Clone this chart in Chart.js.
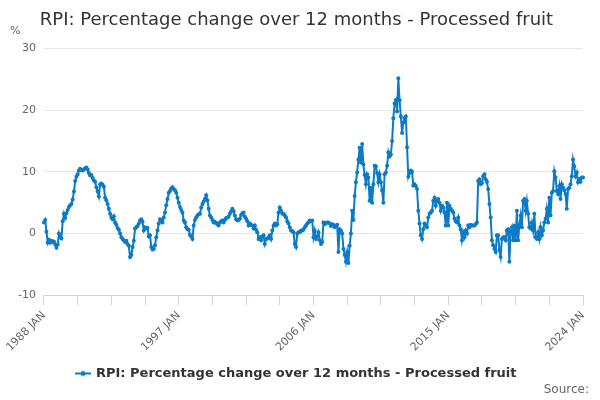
<!DOCTYPE html>
<html>
<head>
<meta charset="utf-8">
<script src="https://cdn.jsdelivr.net/npm/chart.js@4"></script>
<style>
  html, body { margin: 0; padding: 0; background: #fff; }
  #wrap { width: 600px; height: 400px; }
</style>
</head>
<body>
<div id="wrap"><canvas id="rpiChart" width="600" height="400"></canvas></div>
<script>
// monthly series, 1988 JAN .. 2024 JAN
const startYear = 1988;
const monthNames = ['JAN', 'FEB', 'MAR', 'APR', 'MAY', 'JUN', 'JUL', 'AUG', 'SEP', 'OCT', 'NOV', 'DEC'];
const tickLabels = ['1988 JAN', '1997 JAN', '2006 JAN', '2015 JAN', '2024 JAN'];
const yTicks = [-10, 0, 10, 20, 30];

const values = [
    1.8, 2.2, 0.3, -1.5, -1.0, -1.5, -1.2, -1.4, -1.3, -1.8, -2.3, -1.8,   // 1988
    0.0, -0.6, -0.8, 2.0, 3.2, 2.5, 3.3, 3.8, 4.3, 4.6, 4.8, 5.5,         // 1989
    6.8, 8.5, 9.2, 9.6, 10.2, 10.5, 10.3, 10.2, 10.4, 10.6, 10.7, 10.4,   // 1990
    9.8, 9.4, 9.5, 9.0, 8.6, 8.4, 7.5, 6.8, 6.0, 8.0, 8.1, 7.9,           // 1991
    7.6, 5.8, 5.4, 4.8, 4.0, 3.2, 2.6, 2.3, 2.8, 1.8, 1.4, 0.9,           // 1992
    0.6, 0.0, -0.6, -0.9, -1.1, -1.4, -1.2, -1.7, -2.0, -3.8, -3.5, -2.2, // 1993
    -1.2, 0.8, 1.0, 1.2, 1.6, 2.1, 2.3, 1.9, 0.5, 1.0, 0.8, 0.9,          // 1994
    -0.5, -0.3, -2.2, -2.6, -2.5, -1.9, -0.6, 0.5, 1.6, 2.3, 2.1, 1.8,    // 1995
    2.6, 3.4, 4.6, 5.6, 6.6, 6.9, 7.3, 7.5, 7.2, 7.0, 6.6, 5.8,           // 1996
    5.0, 4.3, 3.8, 3.4, 2.1, 1.8, 1.0, 0.7, 0.6, -0.2, -0.5, -0.9,        // 1997
    1.3, 2.2, 2.6, 2.9, 3.1, 3.2, 4.2, 4.8, 5.2, 5.6, 6.2, 5.4,           // 1998
    4.0, 2.9, 2.6, 2.2, 1.8, 1.9, 1.7, 1.5, 1.3, 1.8, 2.0, 2.1,           // 1999
    1.8, 2.2, 2.5, 2.6, 2.7, 3.2, 3.6, 4.0, 3.6, 2.9, 2.3, 2.1,           // 2000
    2.2, 2.4, 3.0, 3.3, 3.4, 2.7, 2.4, 2.0, 1.3, 1.6, 1.4, 1.3,           // 2001
    0.8, 1.3, 0.6, 0.2, -0.9, -0.6, -1.1, -0.5, -0.3, -1.7, -0.9, -0.8,   // 2002
    -0.6, -0.3, -0.9, 0.5, 1.3, 1.6, 1.3, 1.5, 3.4, 4.2, 3.7, 3.2,        // 2003
    3.2, 2.9, 2.6, 2.0, 1.6, 1.0, 0.5, 0.4, 0.2, -1.7, -2.2, 0.0,         // 2004
    0.2, 0.2, 0.5, 0.5, 0.6, 1.0, 1.3, 1.6, 1.8, 2.1, 2.0, 2.1,           // 2005
    -0.6, 0.5, -0.9, -0.5, 0.2, -1.1, -1.7, -1.4, 1.8, 1.5, 1.7, 1.8,     // 2006
    1.8, 1.6, 1.2, 1.5, 1.4, 1.0, 1.2, 1.4, -3.0, 0.7, 0.5, 0.0,          // 2007
    -2.5, -3.5, -4.6, -3.0, -4.8, -2.0, 0.0, 3.7, 2.2, 6.1, 8.3, 9.9,     // 2008
    12.0, 13.9, 11.5, 14.5, 11.2, 9.5, 8.0, 9.6, 9.1, 5.3, 7.4, 5.0,      // 2009
    8.0, 11.0, 10.9, 9.8, 8.3, 9.6, 8.3, 7.0, 5.0, 9.6, 9.9, 11.0,        // 2010
    13.2, 12.5, 12.8, 15.0, 18.7, 21.1, 21.6, 19.8, 25.2, 21.6, 19.0, 16.3, // 2011
    18.0, 18.7, 19.0, 14.0, 9.2, 9.8, 10.2, 10.0, 7.8, 8.0, 7.7, 7.2,     // 2012
    3.7, 1.6, -0.3, -0.9, 0.7, 1.6, 1.3, 1.0, 2.6, 3.2, 3.4, 3.7,         // 2013
    5.3, 5.8, 4.5, 5.3, 5.6, 5.0, 3.7, 4.5, 4.2, 3.4, 1.3, 5.0,           // 2014
    1.3, 4.5, 4.0, 3.7, 3.4, 2.4, 2.0, 1.8, 2.6, 1.3, 0.7, -1.1,          // 2015
    0.2, -0.6, 0.5, 0.0, 1.3, 1.0, 1.4, 1.3, 1.3, 1.3, 1.5, 1.8,          // 2016
    8.5, 8.8, 8.0, 8.2, 9.3, 9.6, 8.8, 8.4, 7.2, 4.8, 2.6, -1.1,          // 2017
    -1.9, -2.5, -3.0, -0.3, -0.3, -2.7, -3.8, -0.9, -0.6, -0.6, -1.1, 0.5, // 2018
    0.7, -4.6, 0.3, 1.0, -1.1, 1.3, -1.1, 3.7, -1.1, 1.3, 2.9, 1.0,       // 2019
    5.3, 5.6, 3.7, 5.3, 3.2, 1.0, 0.8, 1.8, 0.5, 3.2, -0.6, -0.9,         // 2020
    0.2, -0.9, 1.0, -0.3, 0.5, 1.8, 2.4, 4.0, 1.8, 5.8, 2.9, 6.6,         // 2021
    6.9, 10.1, 9.1, 6.9, 6.4, 7.7, 5.6, 8.0, 7.4, 7.0, 6.4, 4.0,          // 2022
    7.2, 7.4, 8.0, 9.3, 12.0, 10.9, 9.3, 9.9, 8.3, 8.8, 8.4, 9.1,         // 2023
    9.1                                                                   // 2024
];

const labels = values.map((v, i) => (startYear + Math.floor(i / 12)) + ' ' + monthNames[i % 12]);

const lineColor = '#0b7bc6';
const font = 'DejaVu Sans';

// legend symbol: short line with a dot, like the original
const icon = document.createElement('canvas');
icon.width = 16; icon.height = 8;
const ic = icon.getContext('2d');
ic.strokeStyle = lineColor; ic.lineWidth = 2;
ic.beginPath(); ic.moveTo(0, 4); ic.lineTo(16, 4); ic.stroke();
ic.fillStyle = lineColor;
ic.beginPath(); ic.arc(8, 4, 2.5, 0, Math.PI * 2); ic.fill();

const extras = {
    id: 'extras',
    afterDraw(chart) {
        const c = chart.ctx;
        c.save();
        c.fillStyle = '#666';
        c.font = '11px "' + font + '"';
        c.textAlign = 'left';
        c.textBaseline = 'middle';
        c.fillText('%', 10, 31);
        c.font = '12px "' + font + '"';
        c.textAlign = 'right';
        c.fillText('Source:', 589, 390);
        c.restore();
    }
};

const ctx = document.getElementById('rpiChart').getContext('2d');
new Chart(ctx, {
    type: 'line',
    data: {
        labels: labels,
        datasets: [{
            label: 'RPI: Percentage change over 12 months - Processed fruit',
            data: values,
            borderColor: lineColor,
            backgroundColor: lineColor,
            borderWidth: 2,
            pointRadius: 2,
            pointBorderWidth: 0,
            tension: 0
        }]
    },
    options: {
        responsive: false,
        animation: false,
        layout: { padding: { left: 10, right: 17, top: 0, bottom: 10 } },
        plugins: {
            title: {
                display: true,
                text: 'RPI: Percentage change over 12 months - Processed fruit',
                color: '#333',
                font: { family: font, size: 18, weight: 'normal' },
                padding: { top: 10, bottom: 17 }
            },
            legend: {
                position: 'bottom',
                labels: {
                    color: '#333',
                    font: { family: font, size: 13, weight: 'bold' },
                    usePointStyle: true,
                    padding: 9,
                    generateLabels(chart) {
                        const items = Chart.defaults.plugins.legend.labels.generateLabels(chart);
                        items.forEach(it => { it.pointStyle = icon; });
                        return items;
                    }
                }
            },
            tooltip: { enabled: false }
        },
        scales: {
            x: {
                type: 'category',
                offset: false,
                afterBuildTicks(scale) {
                    const t = [];
                    for (let i = 0; i < labels.length; i += 27) t.push({ value: i });
                    scale.ticks = t;
                },
                ticks: {
                    autoSkip: false,
                    maxRotation: 45,
                    minRotation: 45,
                    color: '#666',
                    font: { family: font, size: 11 },
                    padding: 4,
                    callback(value) {
                        const l = this.getLabelForValue(value);
                        return tickLabels.includes(l) ? l : '';
                    }
                },
                grid: { drawOnChartArea: false, drawTicks: true, tickLength: 10, color: '#ccd6eb' },
                border: { color: '#ccd6eb', width: 1 }
            },
            y: {
                min: -10,
                max: 30,
                afterBuildTicks(scale) {
                    scale.ticks = yTicks.map(v => ({ value: v }));
                },
                ticks: {
                    color: '#666',
                    font: { family: font, size: 11 },
                    padding: 8
                },
                grid: { color: '#e6e6e6', drawTicks: false },
                border: { display: false }
            }
        }
    },
    plugins: [extras]
});
</script>
</body>
</html>
